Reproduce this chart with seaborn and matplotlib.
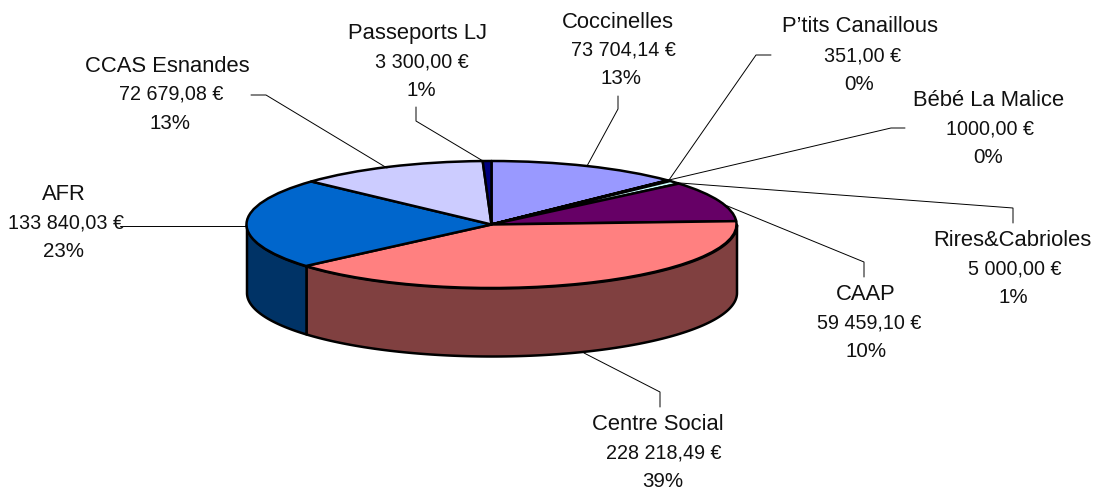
import numpy as np
import matplotlib
matplotlib.use("Agg")
import matplotlib.pyplot as plt
import seaborn as sns

names = ["Coccinelles", "P\u2019tits Canaillous", "Bébé La Malice", "Rires&Cabrioles", "CAAP",
         "Centre Social", "AFR", "CCAS Esnandes", "Passeports LJ"]
values = [73704.14, 351.00, 1000.00, 5000.00, 59459.10, 228218.49, 133840.03, 72679.08, 3300.00]
amounts = ["73 704,14 €", "351,00 €", "1000,00 €", "5 000,00 €", "59 459,10 €",
           "228 218,49 €", "133 840,03 €", "72 679,08 €", "3 300,00 €"]
percents = ["13%", "0%", "0%", "1%", "10%", "39%", "23%", "13%", "1%"]
top_colors = ["#9999FF", "#993366", "#FFFFCC", "#CCFFFF", "#660066", "#FF8080", "#0066CC", "#CCCCFF", "#000080"]
wall_colors = ["#4C4C80", "#4C1A33", "#808066", "#668080", "#330033", "#804040", "#003366", "#666680", "#000040"]

# label centre in pixels (x, y of the first line)
label_xy = [(618, 22), (860, 27), (989, 100), (1012, 240), (866, 294), (658, 424), (64, 194), (167, 66), (418, 34)]
# horizontal offsets of the amount and percent lines against the name line
amount_dx = [5, 3, 1, 3, 3, 6, 2, 4, 4]
percent_dx = [3, -1, -1, 1, 0, 5, 0, 3, 3]
# leader lines in pixels
leaders = [
    [(618, 96), (618, 109), (587, 166)],
    [(771, 55), (756, 55), (669, 180)],
    [(905, 128), (891, 128), (669, 180)],
    [(1013, 223), (1013, 208), (680, 183)],
    [(864, 277), (864, 262), (725, 205)],
    [(660, 407), (660, 392), (584, 353)],
    [(120, 225.5), (246, 225.5)],
    [(251, 95), (266, 95), (387, 168)],
    [(416, 107), (416, 121), (483, 161)],
]

sns.set_theme(style="white")
plt.rcParams["font.family"] = ["Liberation Sans", "DejaVu Sans"]

W, H = 1093, 490
CX, CY, RX, RY, DEPTH = 491.5, 224.5, 245, 63.5, 68

fig = plt.figure(figsize=(W / 100, H / 100), dpi=100, facecolor="white")
ax = fig.add_axes([0, 0, 1, 1])
edge = dict(edgecolor="black", linewidth=1.8, joinstyle="round")

wedges, _ = ax.pie(values, colors=sns.color_palette(top_colors), startangle=90, counterclock=False,
                   wedgeprops=edge, normalize=True)
for w in wedges:
    w.set_zorder(3)

# Side walls: the lower rim of every slice, extruded downward
d = DEPTH / RY
for w, c in zip(wedges, wall_colors):
    t1, t2 = w.theta1 % 360, w.theta2 % 360
    if t2 <= t1:
        t2 += 360
    for shift in (0, 360):
        a, b = max(t1, 180 + shift), min(t2, 360 + shift)
        if b > a:
            th = np.radians(np.linspace(a, b, 120))
            x, y = np.cos(th), np.sin(th)
            ax.fill_between(x, y, y - d, facecolor=c, zorder=2, **edge)

ax.set_aspect("auto")
ax.set_xlim(-CX / RX, (W - CX) / RX)
ax.set_ylim((CY - H) / RY, CY / RY)
ax.axis("off")

# Overlay in pixel space for labels and leader lines
ov = fig.add_axes([0, 0, 1, 1], facecolor="none")
ov.set_xlim(0, W)
ov.set_ylim(H, 0)
ov.axis("off")
for pts in leaders:
    px, py = zip(*pts)
    ov.plot(px, py, color="black", lw=0.7, solid_joinstyle="miter", zorder=1)
for (lx, ly), n, a, p, adx, pdx in zip(label_xy, names, amounts, percents, amount_dx, percent_dx):
    ov.text(lx, ly, n, ha="center", va="center", fontsize=15.8, color="#111111", zorder=5)
    ov.text(lx + adx, ly + 28.5, a, ha="center", va="center", fontsize=14.2, color="#111111", zorder=5)
    ov.text(lx + pdx, ly + 57, p, ha="center", va="center", fontsize=14.8, color="#111111", zorder=5)

fig.savefig("out.png", dpi=100, facecolor="white")
